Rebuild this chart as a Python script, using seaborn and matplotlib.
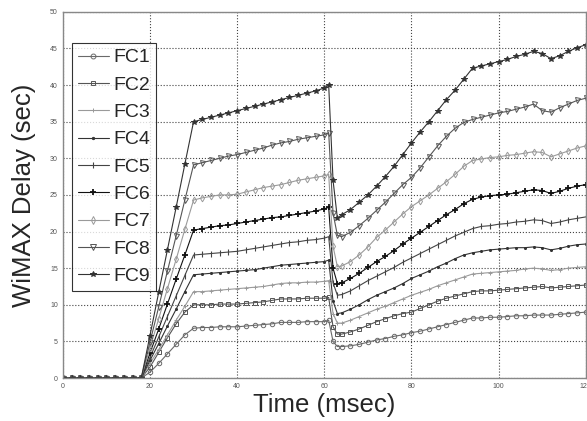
import numpy as np
import pandas as pd
import seaborn as sns
import matplotlib.pyplot as plt

# time axis (msec)
t = [0, 2, 4, 6, 8, 10, 12, 14, 16, 18,
     20, 22, 24, 26, 28, 30,
     32, 34, 36, 38, 40, 42, 44, 46, 48, 50, 52, 54, 56, 58, 60,
     61, 62, 63,
     64, 66, 68, 70, 72, 74, 76, 78, 80, 82, 84, 86, 88, 90, 92, 94,
     96, 98, 100, 102, 104, 106, 108, 110, 112, 114, 116, 118, 120]

z = [0] * 10

fc1 = z + [0.8, 2.0, 3.3, 4.6, 5.9, 6.8,
           6.9, 6.9, 7.0, 7.0, 7.0, 7.1, 7.2, 7.3, 7.4, 7.6, 7.6, 7.6, 7.7, 7.7, 7.7,
           7.9, 5.0, 4.3,
           4.3, 4.4, 4.6, 4.9, 5.2, 5.4, 5.7, 5.9, 6.2, 6.4, 6.7, 7.0, 7.3, 7.6, 7.9,
           8.2, 8.2, 8.3, 8.3, 8.4, 8.5, 8.5, 8.6, 8.6, 8.6, 8.7, 8.8, 8.9, 9.0]
fc2 = z + [1.5, 3.5, 5.5, 7.4, 9.0, 10.0,
           10.0, 10.0, 10.1, 10.1, 10.1, 10.2, 10.3, 10.4, 10.6, 10.8, 10.8, 10.8, 10.9, 10.9, 10.9,
           11.0, 7.0, 6.0,
           6.0, 6.3, 6.7, 7.2, 7.7, 8.1, 8.5, 8.8, 9.0, 9.5, 10.0, 10.5, 10.9, 11.2, 11.5,
           11.8, 11.9, 11.9, 12.0, 12.1, 12.2, 12.3, 12.4, 12.5, 12.3, 12.4, 12.5, 12.6, 12.7]
fc3 = z + [2.0, 3.9, 5.9, 7.9, 9.8, 11.8,
           11.8, 11.9, 12.0, 12.1, 12.2, 12.3, 12.4, 12.5, 12.7, 12.9, 13.0, 13.0, 13.1, 13.1, 13.2,
           13.3, 8.8, 7.5,
           7.5, 7.9, 8.4, 8.9, 9.4, 9.8, 10.3, 10.8, 11.3, 11.7, 12.1, 12.6, 13.0, 13.4, 13.8,
           14.2, 14.3, 14.4, 14.5, 14.6, 14.7, 14.9, 15.0, 14.9, 14.7, 14.8, 15.0, 15.1, 15.2]
fc4 = z + [2.4, 4.7, 7.1, 9.4, 11.8, 14.1,
           14.2, 14.3, 14.4, 14.5, 14.6, 14.7, 14.8, 15.0, 15.2, 15.4, 15.5, 15.6, 15.7, 15.8, 15.9,
           16.1, 10.5, 8.8,
           8.9, 9.4, 10.0, 10.7, 11.3, 11.8, 12.3, 12.9, 13.6, 14.1, 14.6, 15.2, 15.7, 16.3, 16.8,
           17.1, 17.3, 17.5, 17.6, 17.7, 17.8, 17.8, 17.9, 17.8, 17.5, 17.7, 18.0, 18.2, 18.3]
fc5 = z + [2.8, 5.6, 8.4, 11.2, 14.0, 16.8,
           16.9, 17.0, 17.1, 17.2, 17.3, 17.5, 17.7, 17.9, 18.1, 18.3, 18.5, 18.6, 18.8, 18.9, 19.1,
           19.3, 13.0, 11.3,
           11.4, 11.9, 12.6, 13.3, 13.9, 14.5, 15.1, 15.8, 16.4, 17.0, 17.6, 18.2, 18.8, 19.4, 19.9,
           20.4, 20.7, 20.8, 21.0, 21.1, 21.3, 21.4, 21.6, 21.5, 21.1, 21.3, 21.6, 21.8, 22.0]
fc6 = z + [3.4, 6.7, 10.1, 13.5, 16.8, 20.2,
           20.4, 20.6, 20.8, 20.9, 21.1, 21.3, 21.5, 21.7, 21.9, 22.0, 22.2, 22.4, 22.6, 22.8, 23.1,
           23.3, 15.0, 12.9,
           13.0, 13.6, 14.3, 15.1, 15.9, 16.6, 17.4, 18.3, 19.1, 19.9, 20.7, 21.5, 22.3, 23.0, 23.8,
           24.4, 24.7, 24.9, 25.0, 25.1, 25.3, 25.5, 25.7, 25.6, 25.2, 25.5, 25.9, 26.2, 26.4]
fc7 = z + [4.1, 8.1, 12.2, 16.2, 20.3, 24.3,
           24.6, 24.8, 25.0, 25.0, 25.1, 25.4, 25.7, 26.0, 26.2, 26.4, 26.7, 27.0, 27.2, 27.4, 27.6,
           27.8, 18.0, 15.2,
           15.3, 15.9, 16.8, 17.9, 19.2, 20.2, 21.3, 22.4, 23.4, 24.2, 25.0, 25.9, 26.8, 27.8, 28.9,
           29.7, 29.9, 30.1, 30.2, 30.4, 30.5, 30.7, 30.9, 30.8, 30.2, 30.6, 31.0, 31.4, 31.7]
fc8 = z + [4.9, 9.7, 14.6, 19.4, 24.3, 29.1,
           29.4, 29.7, 30.0, 30.3, 30.5, 30.8, 31.1, 31.4, 31.8, 32.1, 32.3, 32.6, 32.8, 33.0, 33.2,
           33.5, 22.5, 19.5,
           19.3, 19.9, 20.8, 21.8, 22.9, 24.0, 25.2, 26.4, 27.4, 28.7, 30.2, 31.7, 33.0, 34.1, 34.9,
           35.3, 35.6, 35.9, 36.2, 36.4, 36.7, 37.0, 37.4, 36.5, 36.3, 36.9, 37.4, 37.9, 38.2]
fc9 = z + [5.8, 11.7, 17.5, 23.3, 29.2, 35.0,
           35.3, 35.6, 35.9, 36.2, 36.5, 36.8, 37.1, 37.4, 37.7, 38.0, 38.3, 38.6, 38.9, 39.2, 39.6,
           40.0, 27.0, 21.8,
           22.3, 23.0, 24.0, 25.0, 26.2, 27.5, 28.9, 30.5, 32.1, 33.6, 35.0, 36.5, 38.0, 39.3, 40.8,
           42.3, 42.6, 42.9, 43.2, 43.5, 43.9, 44.2, 44.6, 44.3, 43.6, 44.0, 44.6, 45.1, 45.5]

names = ['FC1', 'FC2', 'FC3', 'FC4', 'FC5', 'FC6', 'FC7', 'FC8', 'FC9']
series = [fc1, fc2, fc3, fc4, fc5, fc6, fc7, fc8, fc9]
colors = ['#6a6a6a', '#555555', '#9a9a9a', '#333333', '#444444',
          '#111111', '#9a9a9a', '#555555', '#333333']
markers = ['o', 's', '+', '.', '|', '+', 'd', 'v', '*']
hollow = [True, True, False, False, False, False, True, True, False]
msizes = [3.2, 3.2, 3.0, 3.0, 4.0, 4.0, 3.4, 3.6, 4.0]
medges = [0.7, 0.7, 0.7, 0.7, 0.8, 1.3, 0.7, 0.7, 0.7]

sns.set_style('white')
plt.rcParams['font.family'] = ['Liberation Sans', 'DejaVu Sans']

fig = plt.figure(figsize=(5.87, 4.21), dpi=100)
ax = fig.add_axes([0.107, 0.102, 0.891, 0.870])

for name, y, c, m, h, ms, mw in zip(names, series, colors, markers, hollow, msizes, medges):
    df = pd.DataFrame({'t': t, 'y': y})
    sns.lineplot(data=df, x='t', y='y', ax=ax, color=c, lw=0.8,
                 marker=m, markersize=ms,
                 markerfacecolor='none' if h else c,
                 markeredgecolor=c, markeredgewidth=mw, label=name)

ax.set_xlim(0, 120)
ax.set_ylim(0, 50)
ax.set_xticks(range(0, 121, 20))
ax.set_yticks(range(0, 51, 5))
ax.tick_params(labelsize=5, colors='#555555', length=2, direction='in')
ax.grid(True, ls=':', color='#444444', lw=0.8)
for s in ax.spines.values():
    s.set_color('#888888')
    s.set_linewidth(1.0)

ax.set_xlabel('Time (msec)', fontsize=18.5, labelpad=2)
ax.set_ylabel('WiMAX Delay (sec)', fontsize=18.5, labelpad=10)

leg = ax.legend(loc='upper left', bbox_to_anchor=(0.017, 0.915), fontsize=14,
                frameon=True, fancybox=False, edgecolor='black',
                handlelength=1.6, handletextpad=0.25, labelspacing=0.5,
                borderpad=0.3, borderaxespad=0.0, markerscale=1.1)
leg.get_frame().set_linewidth(0.8)

fig.savefig('out.png', dpi=100)
